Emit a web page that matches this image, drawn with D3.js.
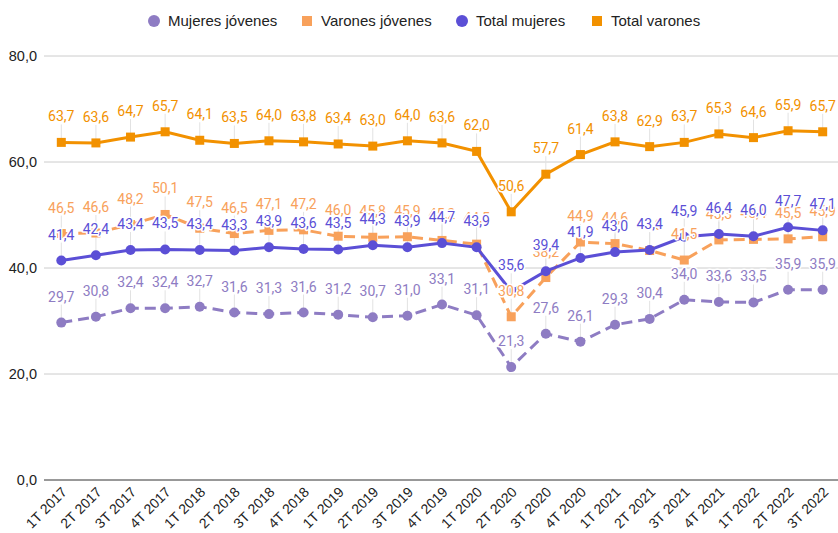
<!DOCTYPE html>
<html>
<head>
<meta charset="utf-8">
<script src="https://cdn.jsdelivr.net/npm/d3@7"></script>
<style>
  body { margin: 0; background: #fff; }
  svg { display: block; }
  .tick text { font-family: "Liberation Sans", Arial, sans-serif; }
  .lbl { font-family: Roboto, "Noto Sans", sans-serif; font-size: 14px; paint-order: stroke; stroke: #fff; stroke-width: 3px; stroke-linejoin: round; }
</style>
</head>
<body>
<svg id="chart" width="838" height="533"></svg>
<script>
const quarters = ["1T 2017","2T 2017","3T 2017","4T 2017","1T 2018","2T 2018","3T 2018","4T 2018",
  "1T 2019","2T 2019","3T 2019","4T 2019","1T 2020","2T 2020","3T 2020","4T 2020",
  "1T 2021","2T 2021","3T 2021","4T 2021","1T 2022","2T 2022","3T 2022"];

const mujeresJovenes = [29.7,30.8,32.4,32.4,32.7,31.6,31.3,31.6,31.2,30.7,31.0,33.1,31.1,21.3,27.6,26.1,29.3,30.4,34.0,33.6,33.5,35.9,35.9];
const varonesJovenes = [46.5,46.6,48.2,50.1,47.5,46.5,47.1,47.2,46.0,45.8,45.9,45.2,44.5,30.8,38.2,44.9,44.6,43.3,41.5,45.3,45.4,45.5,45.9];
const totalMujeres   = [41.4,42.4,43.4,43.5,43.4,43.3,43.9,43.6,43.5,44.3,43.9,44.7,43.9,35.6,39.4,41.9,43.0,43.4,45.9,46.4,46.0,47.7,47.1];
const totalVarones   = [63.7,63.6,64.7,65.7,64.1,63.5,64.0,63.8,63.4,63.0,64.0,63.6,62.0,50.6,57.7,61.4,63.8,62.9,63.7,65.3,64.6,65.9,65.7];

const yTicks = [0, 20, 40, 60, 80];

const series = [
  {name: "Mujeres jóvenes", values: mujeresJovenes, color: "#8e7cc3", dash: "11,6", shape: "circle", legendX: 154},
  {name: "Varones jóvenes", values: varonesJovenes, color: "#f8a15b", dash: "11,6", shape: "square", legendX: 307},
  {name: "Total mujeres",   values: totalMujeres,   color: "#5b4fd6", dash: null,   shape: "circle", legendX: 462},
  {name: "Total varones",   values: totalVarones,   color: "#f29100", dash: null,   shape: "square", legendX: 597}
];

const fmt = v => v.toFixed(1).replace(".", ",");

const svg = d3.select("#chart");

const x = d3.scalePoint().domain(quarters).range([44, 840]).padding(0.5);
const y = d3.scaleLinear().domain([0, 80]).range([480, 56]);

// grid
svg.append("g")
  .selectAll("line")
  .data(yTicks.filter(d => d > 0))
  .join("line")
  .attr("x1", 44).attr("x2", 838)
  .attr("y1", d => y(d)).attr("y2", d => y(d))
  .attr("stroke", "#cccccc");

// y axis labels
const yAxis = svg.append("g")
  .attr("transform", "translate(37,0)")
  .call(d3.axisLeft(y).tickValues(yTicks).tickSize(0).tickPadding(0).tickFormat(fmt));
yAxis.select(".domain").remove();
yAxis.selectAll("text").attr("font-size", 14.5).attr("fill", "#222");

// x axis labels
const xAxis = svg.append("g")
  .attr("transform", "translate(0,480)")
  .call(d3.axisBottom(x).tickSize(0).tickPadding(0));
xAxis.select(".domain").remove();
xAxis.selectAll("text")
  .attr("font-size", 14)
  .attr("fill", "#222")
  .attr("text-anchor", "end")
  .attr("dy", null)
  .attr("y", 0)
  .attr("transform", "translate(6,13) rotate(-45)");

// leader lines
series.forEach(s => {
  svg.append("g")
    .selectAll("line")
    .data(s.values)
    .join("line")
    .attr("x1", (d, i) => x(quarters[i]))
    .attr("x2", (d, i) => x(quarters[i]))
    .attr("y1", d => y(d) - 18)
    .attr("y2", d => y(d))
    .attr("stroke", "#e2e2e2")
    .attr("stroke-width", 1);
});

// baseline
svg.append("line")
  .attr("x1", 44).attr("x2", 838)
  .attr("y1", y(0)).attr("y2", y(0))
  .attr("stroke", "#333");

const line = d3.line()
  .x((d, i) => x(quarters[i]))
  .y(d => y(d));

// lines and points
series.forEach(s => {
  svg.append("path")
    .datum(s.values)
    .attr("fill", "none")
    .attr("stroke", s.color)
    .attr("stroke-width", 3)
    .attr("stroke-dasharray", s.dash)
    .attr("d", line);

  const g = svg.append("g").attr("fill", s.color);
  if (s.shape === "circle") {
    g.selectAll("circle")
      .data(s.values)
      .join("circle")
      .attr("cx", (d, i) => x(quarters[i]))
      .attr("cy", d => y(d))
      .attr("r", 5);
  } else {
    g.selectAll("rect")
      .data(s.values)
      .join("rect")
      .attr("x", (d, i) => x(quarters[i]) - 4.5)
      .attr("y", d => y(d) - 4.5)
      .attr("width", 9)
      .attr("height", 9);
  }
});

// data labels
series.forEach(s => {
  svg.append("g")
    .selectAll("text")
    .data(s.values)
    .join("text")
    .attr("class", "lbl")
    .attr("x", (d, i) => x(quarters[i]))
    .attr("y", d => y(d) - 21)
    .attr("text-anchor", "middle")
    .attr("fill", s.color)
    .text(fmt);
});

// legend
const legend = svg.append("g").selectAll("g").data(series).join("g");
legend.each(function (s) {
  const g = d3.select(this);
  if (s.shape === "circle") {
    g.append("circle").attr("cx", s.legendX).attr("cy", 21).attr("r", 6).attr("fill", s.color);
  } else {
    g.append("rect").attr("x", s.legendX - 5).attr("y", 16).attr("width", 10).attr("height", 10).attr("fill", s.color);
  }
  g.append("text")
    .attr("x", s.legendX + 14)
    .attr("y", 26)
    .attr("font-family", '"Liberation Sans", Arial, sans-serif')
    .attr("font-size", 15)
    .attr("fill", "#222")
    .text(s.name);
});
</script>
</body>
</html>
